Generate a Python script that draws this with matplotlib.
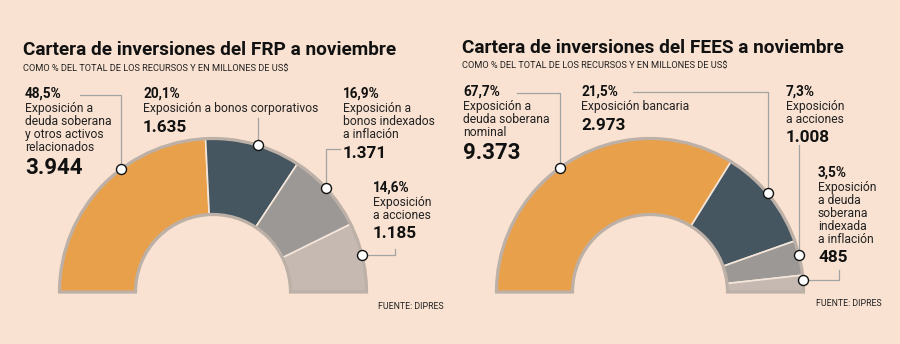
import numpy as np
import matplotlib.pyplot as plt
from matplotlib.patches import Wedge

plt.rcParams['font.family'] = ['Roboto', 'DejaVu Sans']

# datos
frp_pct = [48.5, 20.1, 16.9, 14.6]
frp_musd = [3944, 1635, 1371, 1185]
frp_labels = ["Exposición a\ndeuda soberana\ny otros activos\nrelacionados",
              "Exposición a bonos corporativos",
              "Exposición a\nbonos indexados\na inflación",
              "Exposición\na acciones"]

fees_pct = [67.7, 21.5, 7.3, 3.5]
fees_musd = [9373, 2973, 1008, 485]
fees_labels = ["Exposición a\ndeuda soberana\nnominal",
               "Exposición bancaria",
               "Exposición\na acciones",
               "Exposición\na deuda\nsoberana\nindexada\na inflación"]

BG = '#f9e2d1'
COLORES = ['#e9a04b', '#455660', '#9c9895', '#c5b9b1']
BORDE = '#bcb0a7'
H = 344


def Y(y):
    return H - y


def fmt_pct(p):
    return ("%.1f" % p).replace(".", ",") + "%"


def fmt_num(v):
    return "{:,}".format(v).replace(",", ".")


fig = plt.figure(figsize=(9, 3.44), dpi=100, facecolor=BG)
ax = fig.add_axes([0, 0, 1, 1])
ax.set_facecolor(BG)


def semidona(cx, cy, pct):
    frac = np.array(pct) / sum(pct) / 2
    ax.pie(frac, normalize=False, center=(cx, Y(cy)), radius=153.5,
           startangle=180, counterclock=False, colors=COLORES,
           wedgeprops=dict(width=76, edgecolor='#f4e6da', linewidth=1.2))
    ax.add_patch(Wedge((cx, Y(cy)), 153.5, 0, 180, width=76, fill=False,
                       edgecolor=BORDE, linewidth=2.3, zorder=3))


def etiqueta(x, base, pct, texto, valor, grande):
    ax.text(x, Y(base), fmt_pct(pct), fontsize=9.8, fontweight='bold',
            color='#111111', va='baseline')
    lineas = texto.split("\n")
    y = base + 14
    for ln in lineas:
        ax.text(x, Y(y), ln, fontsize=8.75, color='#222222', va='baseline')
        y += 13
    y -= 13
    if grande:
        ax.text(x, Y(y + 23), fmt_num(valor), fontsize=16, fontweight='bold',
                color='#111111', va='baseline')
    else:
        ax.text(x, Y(y + 19.5), fmt_num(valor), fontsize=12.3,
                fontweight='bold', color='#111111', va='baseline')


def guia(cx, cy, ang, pasos):
    a = np.radians(ang)
    px = cx + 153.5 * np.cos(a)
    py = cy - 153.5 * np.sin(a)
    xs, ys = [px], [py]
    for eje, v in pasos:
        if eje == 'v':
            xs.append(xs[-1])
            ys.append(v)
        else:
            xs.append(v)
            ys.append(ys[-1])
    ax.plot(xs, [Y(v) for v in ys], color='#a3a3a3', lw=0.9, zorder=4)
    ax.plot(px, Y(py), 'o', ms=7.2, mfc='white', mec='#111111', mew=1.0,
            zorder=5)


# FRP
semidona(213, 292, frp_pct)
ax.text(23, Y(55), "Cartera de inversiones del FRP a noviembre", fontsize=13.7,
        fontweight='bold', color='#111111', va='baseline')
ax.text(23, Y(71), "COMO % DEL TOTAL DE LOS RECURSOS Y EN MILLONES DE US$",
        fontsize=6.7, color='#222222', va='baseline')
pos_frp = [(25, 98, True), (143, 98, False), (343, 98, False), (373, 192, False)]
for i in range(4):
    x, b, g = pos_frp[i]
    etiqueta(x, b, frp_pct[i], frp_labels[i], frp_musd[i], g)
guia(213, 292, 127, [('v', 95), ('h', 80)])
guia(213, 292, 73, [('v', 118)])
guia(213, 292, 42.5, [('v', 149), ('h', 340)])
guia(213, 292, 14, [('h', 395), ('v', 249)])
ax.text(378, Y(309), "FUENTE: DIPRES", fontsize=6.3, color='#222222',
        va='baseline')

# FEES
semidona(650, 292, fees_pct)
ax.text(462, Y(53), "Cartera de inversiones del FEES a noviembre", fontsize=13.7,
        fontweight='bold', color='#111111', va='baseline')
ax.text(462, Y(68), "COMO % DEL TOTAL DE LOS RECURSOS Y EN MILLONES DE US$",
        fontsize=6.7, color='#222222', va='baseline')
pos_fees = [(463, 96, True), (581, 96, False), (786, 96, False), (818, 177, False)]
for i in range(4):
    x, b, g = pos_fees[i]
    etiqueta(x, b, fees_pct[i], fees_labels[i], fees_musd[i], g)
guia(650, 292, 126, [('v', 93), ('h', 517)])
guia(650, 292, 40, [('v', 92), ('h', 633)])
guia(650, 292, 14, [('v', 145)])
guia(650, 292, 4.4, [('h', 839), ('v', 270)])
ax.text(816, Y(306), "FUENTE: DIPRES", fontsize=6.3, color='#222222',
        va='baseline')

ax.set_xlim(0, 900)
ax.set_ylim(0, H)
ax.set_aspect('equal')
ax.axis('off')

plt.savefig('out.png', dpi=100, facecolor=BG)
